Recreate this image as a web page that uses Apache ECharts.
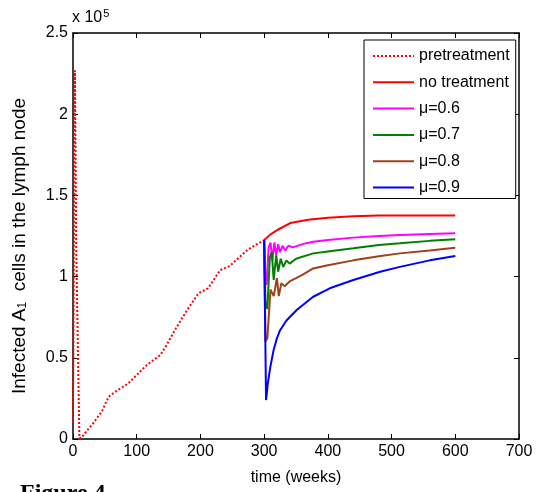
<!DOCTYPE html>
<html>
	<head>
		<meta charset="UTF-8">
		<title>Infected A1 cells</title>
		<script src="https://cdn.jsdelivr.net/npm/echarts@6/dist/echarts.min.js"></script>
	</head>
	<style type="text/css">
		body {
			margin: 0;
			padding: 0;
			background: #fff;
		}

		#chart {
			width: 542px;
			height: 492px;
		}
	</style>
	<body>
		<div id="chart"></div>
		<script>
			// values in units of 10^5, time in weeks
			var pretreatment = [[0, 0.1], [3, 2.27], [5, 1.2], [10, 0.005], [14, 0.01], [19, 0.037], [32, 0.099], [45, 0.168],
				[56, 0.26], [66, 0.29], [87, 0.343], [100, 0.394], [116, 0.456], [137, 0.517], [147, 0.579],
				[160, 0.671], [180, 0.8], [197, 0.897], [212, 0.928], [231, 1.04], [246, 1.065], [265, 1.133],
				[275, 1.168], [300, 1.225]];
			var noTreatment = [[300, 1.225], [310, 1.26], [322, 1.29], [341, 1.33], [369, 1.35], [400, 1.362],
				[440, 1.372], [480, 1.376], [520, 1.377], [600, 1.377]];
			var mu06 = [[300, 1.225], [302, 1.0], [304, 0.95], [307, 1.18], [310, 1.21], [313, 1.1], [316, 1.21],
				[319, 1.13], [322, 1.2], [325, 1.15], [329, 1.19], [333, 1.16], [338, 1.19], [345, 1.18],
				[360, 1.2], [377, 1.215], [400, 1.225], [440, 1.24], [480, 1.25], [513, 1.256], [560, 1.262], [600, 1.267]];
			var mu07 = [[300, 1.225], [302, 0.85], [305, 0.8], [309, 1.12], [312, 1.15], [315, 0.98], [319, 1.13],
				[322, 1.03], [326, 1.11], [330, 1.06], [335, 1.1], [340, 1.08], [350, 1.11], [377, 1.143],
				[400, 1.155], [440, 1.174], [480, 1.195], [513, 1.205], [560, 1.22], [600, 1.23]];
			var mu08 = [[300, 1.225], [302, 0.6], [305, 0.62], [310, 0.92], [315, 0.88], [320, 0.99], [323, 0.88],
				[327, 0.96], [332, 0.94], [340, 0.97], [360, 1.01], [377, 1.05], [400, 1.07], [440, 1.1],
				[480, 1.125], [513, 1.143], [560, 1.16], [600, 1.178]];
			var mu09 = [[300, 1.225], [303, 0.24], [306, 0.35], [310, 0.45], [315, 0.55], [320, 0.62], [325, 0.67],
				[335, 0.73], [351, 0.794], [377, 0.876], [403, 0.928], [440, 0.979], [482, 1.03], [513, 1.06],
				[560, 1.1], [600, 1.127]];

			var legendNames = ['pretreatment', 'no treatment', 'μ=0.6', 'μ=0.7', 'μ=0.8', 'μ=0.9'];
			var colors = ['#ff0000', '#ff0000', '#ff00ff', '#008000', '#a0401a', '#0000ff'];
			var font = 'Liberation Sans, Arial, sans-serif';

			function line(name, data, color, type) {
				return {
					name: name,
					type: 'line',
					data: data,
					symbol: 'none',
					smooth: false,
					animation: false,
					lineStyle: { color: color, width: 2, type: type || 'solid' },
					itemStyle: { color: color }
				};
			}

			var axisLine = { onZero: false, lineStyle: { color: '#000', width: 1.5 } };
			var tick = { inside: true, length: 5, lineStyle: { color: '#000', width: 1 } };

			var chart = echarts.init(document.getElementById('chart'));
			chart.setOption({
				animation: false,
				backgroundColor: '#fff',
				grid: { left: 73, right: 23, top: 33, bottom: 53 },
				legend: {
					data: legendNames,
					orient: 'vertical',
					left: 364,
					top: 40,
					itemWidth: 41,
					itemHeight: 14,
					itemGap: 10.3,
					padding: [8, 6, 3, 8],
					borderColor: '#000',
					borderWidth: 1,
					backgroundColor: '#fff',
					itemStyle: { opacity: 0 },
					textStyle: { color: '#000', fontSize: 16, fontFamily: font }
				},
				xAxis: [{
					type: 'value', min: 0, max: 700, interval: 100,
					name: 'time (weeks)', nameLocation: 'middle', nameGap: 31,
					nameTextStyle: { color: '#000', fontSize: 16, fontFamily: font },
					axisLine: axisLine, axisTick: tick, splitLine: { show: false },
					axisLabel: { color: '#000', fontSize: 16, fontFamily: font, margin: 5 }
				}, {
					type: 'value', min: 0, max: 700, interval: 100, position: 'top',
					axisLine: axisLine, axisTick: tick, splitLine: { show: false },
					axisLabel: { show: false }
				}],
				yAxis: [{
					type: 'value', min: 0, max: 2.5, interval: 0.5,
					name: 'Infected A{sub|1}  cells in the lymph node', nameLocation: 'middle', nameGap: 44,
					nameTextStyle: {
						color: '#000', fontSize: 19, fontFamily: font, padding: [0, 20, 0, 0],
						rich: { sub: { fontSize: 12, fontFamily: font, color: '#000', verticalAlign: 'bottom', padding: [7, 0, 0, 0] } }
					},
					axisLine: axisLine, axisTick: tick, splitLine: { show: false },
					axisLabel: { color: '#000', fontSize: 16, fontFamily: font, margin: 5 }
				}, {
					type: 'value', min: 0, max: 2.5, interval: 0.5, position: 'right',
					axisLine: axisLine, axisTick: tick, splitLine: { show: false },
					axisLabel: { show: false }
				}],
				graphic: [{
					type: 'text', left: 72, top: 8,
					style: {
						text: 'x 10{sup|5}', fill: '#000', font: '16px ' + font,
						rich: { sup: { fontSize: 11, fontFamily: font, verticalAlign: 'top', padding: [0, 0, 8, 1] } }
					}
				}, {
					type: 'text', left: 20, top: 482,
					style: { text: 'Figure 4', fill: '#000', font: 'bold 24px Liberation Serif, Times New Roman, serif' }
				}],
				series: [
					line(legendNames[0], pretreatment, colors[0], 'dotted'),
					line(legendNames[1], noTreatment, colors[1]),
					line(legendNames[2], mu06, colors[2]),
					line(legendNames[3], mu07, colors[3]),
					line(legendNames[4], mu08, colors[4]),
					line(legendNames[5], mu09, colors[5])
				]
			});
		</script>
	</body>
</html>
